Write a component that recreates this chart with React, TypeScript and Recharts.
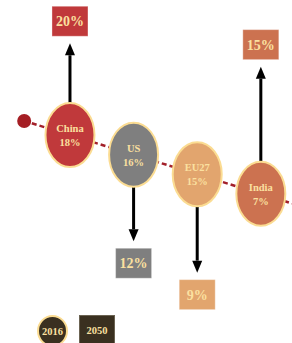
import { ComposedChart, Line, Scatter, XAxis, YAxis } from "recharts";

const countries = ["China", "US", "EU27", "India"];
const share2016 = [18, 16, 15, 7];
const share2050 = [20, 12, 9, 15];
const legendYears = ["2016", "2050"];

const COLORS = ["#c0393b", "#7f7f7f", "#e2a56e", "#cc7250"];
const TEXT = "#fbe0a0";
const RX = 24.5;
const RY = 32;
const BOX_W = 36;
const BOX_H = 30;

// countries sit one step apart on a downward trend (x = y = step)
const rows = countries.map((name, i) => ({
  x: i,
  y: i,
  name,
  v2016: share2016[i],
  v2050: share2050[i],
}));
const trend = [
  { x: -0.72, y: -0.72 },
  { x: 3.49, y: 3.49 },
];

function CountryMark(props: any) {
  const { cx, cy, payload, index } = props;
  const color = COLORS[index];
  const change = payload.v2050 - payload.v2016;
  const dir = change > 0 ? -1 : 1;
  // box distance grows with the size of the change
  const boxCy = cy - 8.5 + dir * (93.5 + 5.9 * Math.abs(change));
  const start = cy + dir * RY;
  const tip = boxCy - dir * (BOX_H / 2 + 7);
  const base = tip - dir * 12;
  return (
    <g>
      <line x1={cx} y1={start} x2={cx} y2={base} stroke="#000" strokeWidth={3} />
      <polygon
        points={`${cx},${tip} ${cx - 5},${base} ${cx + 5},${base}`}
        fill="#000"
      />
      <rect
        x={cx - BOX_W / 2}
        y={boxCy - BOX_H / 2}
        width={BOX_W}
        height={BOX_H}
        fill={color}
        stroke="#ffffff"
        strokeOpacity={0.35}
      />
      <text
        x={cx}
        y={boxCy + 5}
        textAnchor="middle"
        fill={TEXT}
        fontSize={14}
        fontWeight="bold"
        fontFamily="Liberation Serif"
      >
        {payload.v2050}%
      </text>
      <ellipse cx={cx} cy={cy} rx={RX} ry={RY} fill={color} stroke="#fbdc92" strokeWidth={2} />
      <text
        x={cx}
        y={cy - 3}
        textAnchor="middle"
        fill={TEXT}
        fontSize={10.5}
        fontWeight="bold"
        fontFamily="Liberation Serif"
      >
        {payload.name}
      </text>
      <text
        x={cx}
        y={cy + 11}
        textAnchor="middle"
        fill={TEXT}
        fontSize={10.5}
        fontWeight="bold"
        fontFamily="Liberation Serif"
      >
        {payload.v2016}%
      </text>
    </g>
  );
}

function StartDot(props: any) {
  if (props.index !== 0) return <g key={props.index} />;
  return <circle key="start" cx={props.cx} cy={props.cy} r={7} fill="#a51e24" />;
}

export default function App() {
  const legendText = {
    color: TEXT,
    fontSize: 10.5,
    fontWeight: "bold" as const,
    fontFamily: "Liberation Serif",
    display: "flex",
    alignItems: "center",
    justifyContent: "center",
    position: "absolute" as const,
    top: 315,
    boxSizing: "border-box" as const,
  };
  return (
    <div style={{ position: "absolute", left: 0, top: 0, width: 292, height: 343, background: "#fff" }}>
      <ComposedChart width={292} height={343} margin={{ top: 0, right: 0, bottom: 0, left: 0 }}>
        <XAxis type="number" dataKey="x" domain={[-1.1, 3.49]} allowDataOverflow hide />
        <YAxis type="number" dataKey="y" domain={[-6.89, 10.61]} allowDataOverflow reversed hide />
        <Line
          data={trend}
          dataKey="y"
          type="linear"
          stroke="#a3202a"
          strokeWidth={2.5}
          strokeDasharray="5 3"
          dot={StartDot}
          activeDot={false}
          isAnimationActive={false}
        />
        <Scatter data={rows} dataKey="y" shape={CountryMark} isAnimationActive={false} />
      </ComposedChart>
      <div
        style={{
          ...legendText,
          left: 37,
          width: 31,
          height: 32,
          borderRadius: "50%",
          background: "#3a3020",
          border: "2px solid #fbdc92",
        }}
      >
        {legendYears[0]}
      </div>
      <div
        style={{
          ...legendText,
          left: 79,
          width: 36,
          height: 30,
          background: "#3a3020",
          border: "1px solid #6b6352",
        }}
      >
        {legendYears[1]}
      </div>
    </div>
  );
}
